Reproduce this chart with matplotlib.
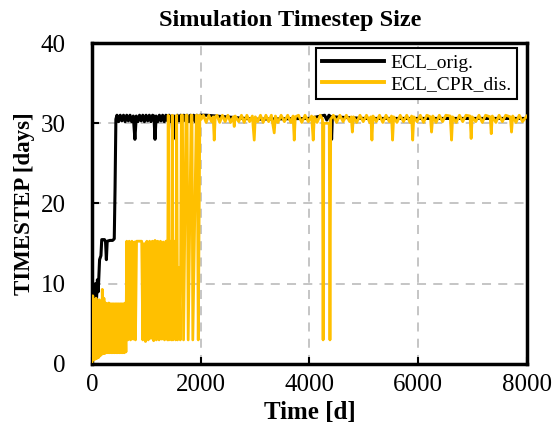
import matplotlib

matplotlib.use("Agg")
import matplotlib.pyplot as plt

plt.rcParams["font.family"] = ["Liberation Serif", "DejaVu Serif"]

# ECL_orig. timestep size [days] vs time [d]
black_t = [0, 20, 40, 60, 80, 100, 115, 140, 165, 180, 230, 250, 265, 280, 330, 380, 410,
           425, 440, 460, 490, 520, 550, 580, 610, 640, 670, 700, 730, 760, 790, 815, 845,
           875, 905, 935, 965, 995, 1025, 1055, 1085, 1115, 1140, 1160, 1180, 1210, 1240,
           1270, 1300, 1330, 1360, 1390, 1420, 1450, 1470, 1490, 1510, 1540, 1570, 1600,
           1630, 1660, 1690, 1720, 1750, 1780, 1810, 1840, 1870, 1900, 1930, 1960, 1990,
           2100, 3000, 4000, 4280, 4320, 4360, 4395, 4408, 4422, 5000, 8000]
black_v = [4.5, 9.0, 6.5, 10.0, 7.5, 10.5, 9.0, 13.0, 13.5, 15.5, 15.5, 15.2, 13.0, 15.3,
           15.4, 15.4, 15.6, 22.0, 30.5, 31.0, 30.2, 31.0, 30.3, 31.0, 30.2, 31.0, 30.3,
           31.0, 30.2, 30.9, 28.0, 30.9, 30.2, 31.0, 30.3, 31.0, 30.2, 31.0, 30.3, 31.0,
           30.2, 31.0, 30.9, 28.0, 30.9, 30.2, 31.0, 30.3, 31.0, 30.2, 31.0, 30.3, 31.0,
           30.2, 30.9, 28.0, 30.9, 30.2, 31.0, 30.3, 31.0, 30.2, 31.0, 30.3, 31.0, 30.2,
           31.0, 30.3, 31.0, 30.2, 31.0, 30.3, 31.0,
           31.0, 30.5, 30.6, 31.0, 30.4, 31.0, 30.8, 28.0, 30.8, 30.6, 30.6]

# ECL_CPR_dis. timestep size [days] vs time [d]
yellow_t = [
    # start-up, 0-630 d
    0, 15, 30, 45, 60, 75, 90, 105, 120, 135, 150, 165, 180, 190, 205, 220, 235, 250,
    265, 280, 295, 310, 325, 340, 355, 370, 385, 400, 415, 430, 445, 460, 475, 490,
    505, 520, 535, 550, 565, 580, 595, 610, 625,
    # 3-15 d band
    640, 660, 685, 710, 735, 760, 785, 800, 820, 915, 935, 960, 985, 1010, 1035, 1060,
    1085, 1110, 1135, 1160, 1185, 1210, 1235, 1260, 1285, 1310, 1335, 1360, 1380, 1390,
    # large swings
    1403, 1415, 1440, 1460, 1477, 1490, 1520, 1540, 1558, 1575, 1600, 1625, 1645, 1665,
    1685, 1730, 1750, 1770, 1825, 1840, 1855, 1920, 1935, 1955, 1985,
    # plateau
    2010, 2050, 2100, 2150, 2200, 2230, 2249, 2268, 2300, 2350, 2400, 2450, 2500, 2550,
    2600, 2617, 2635, 2700, 2750, 2800, 2850, 2900, 2950, 2985, 3005, 3050, 3100, 3150,
    3200, 3250, 3300, 3353, 3375, 3420, 3480, 3540, 3600, 3660, 3700, 3721, 3740, 3800,
    3860, 3920, 3980, 4040, 4070, 4090, 4140, 4200, 4240, 4252, 4265, 4320, 4365, 4378,
    4392, 4440, 4500, 4560, 4620, 4680, 4740, 4770, 4790, 4810, 4870, 4930, 4990, 5050,
    5110, 5130, 5150, 5170, 5230, 5290, 5350, 5410, 5470, 5510, 5530, 5550, 5610, 5670,
    5730, 5790, 5850, 5880, 5900, 5920, 5980, 6040, 6100, 6160, 6225, 6247, 6270, 6330,
    6390, 6450, 6510, 6590, 6615, 6635, 6700, 6760, 6820, 6880, 6955, 6975, 6995, 7060,
    7120, 7180, 7240, 7325, 7345, 7365, 7430, 7490, 7550, 7610, 7695, 7718, 7740, 7800,
    7860, 7920, 8000,
]
yellow_v = [
    0.3, 8.5, 0.5, 8.0, 0.6, 8.2, 0.7, 7.5, 0.8, 8.0, 1.0, 7.6, 1.2, 9.3, 1.3, 8.2, 1.3,
    7.6, 1.4, 7.5, 1.4, 7.6, 1.4, 7.5, 1.4, 7.5, 1.4, 7.5, 1.4, 7.5, 1.4, 7.5, 1.4, 7.5,
    1.4, 7.5, 1.4, 7.5, 1.4, 7.5, 1.4, 7.6, 1.5,
    15.3, 3.0, 15.3, 3.0, 15.3, 3.1, 15.2, 3.0, 15.3, 15.3, 3.0, 15.0, 2.8, 15.3, 3.0,
    15.3, 3.2, 15.3, 2.9, 15.4, 3.0, 15.3, 3.0, 15.3, 3.1, 15.2, 3.0, 15.3, 15.3, 3.0,
    31.0, 3.0, 15.3, 3.0, 31.0, 3.0, 15.3, 3.0, 31.0, 3.0, 12.0, 3.0, 31.0, 31.0,
    3.0, 31.0, 31.0, 3.0, 31.0, 31.0, 3.0, 31.0, 31.0, 3.0, 31.0,
    30.5, 31.0, 30.1, 31.0, 30.2, 30.8, 27.9, 30.8, 31.0, 30.1, 31.0, 30.2, 31.0, 30.1,
    30.8, 29.6, 30.9, 30.2, 31.0, 30.1, 31.0, 30.2, 30.9, 27.9, 30.8, 30.2, 31.0, 30.1,
    31.0, 30.2, 31.0, 28.8, 30.9, 30.1, 31.0, 30.2, 31.0, 30.1, 30.9, 27.9, 30.8, 31.0,
    30.1, 31.0, 30.2, 30.9, 27.9, 30.8, 30.1, 31.0, 30.5, 3.0, 30.0, 30.0, 30.0, 3.0,
    30.5, 31.0, 30.1, 31.0, 30.2, 31.0, 30.2, 30.8, 28.9, 30.8, 30.1, 31.0, 30.2, 31.0,
    30.1, 30.8, 27.9, 30.9, 30.2, 31.0, 30.1, 31.0, 30.2, 30.9, 27.9, 30.8, 30.1, 31.0,
    30.2, 31.0, 30.1, 30.9, 27.9, 30.8, 30.2, 31.0, 30.1, 31.0, 30.8, 28.9, 30.9, 30.1,
    31.0, 30.2, 31.0, 30.9, 27.9, 30.8, 30.1, 31.0, 30.2, 31.0, 30.9, 28.1, 30.8, 30.2,
    31.0, 30.1, 31.0, 30.8, 28.7, 30.9, 30.1, 31.0, 30.2, 31.0, 30.8, 28.9, 30.9, 30.1,
    31.0, 30.2, 30.9,
]

x_ticks = [0, 2000, 4000, 6000, 8000]
y_ticks = [0, 10, 20, 30, 40]

fig = plt.figure(figsize=(5.54, 4.42), dpi=100)
ax = fig.add_axes([0.166, 0.1765, 0.785, 0.7262])

ax.plot(black_t, black_v, color="black", linewidth=2.2, label="ECL_orig.", zorder=3)
ax.plot(yellow_t, yellow_v, color="#FFC000", linewidth=2.0, label="ECL_CPR_dis.", zorder=4)

ax.set_xlim(0, 8000)
ax.set_ylim(0, 40)
ax.set_xticks(x_ticks)
ax.set_yticks(y_ticks)
ax.tick_params(direction="in", labelsize=18, length=5, width=1.5, pad=7)
ax.tick_params(axis="y", pad=19)
ax.grid(True, linestyle=(0, (5, 4)), color="#c0c0c0", linewidth=1.3)
ax.set_axisbelow(True)
for s in ax.spines.values():
    s.set_linewidth(2.5)

ax.set_title("Simulation Timestep Size", fontsize=17.5, fontweight="bold", pad=12, x=0.455)
ax.set_xlabel("Time [d]", fontsize=18, fontweight="bold", labelpad=4)
ax.set_ylabel("TIMESTEP [days]", fontsize=16.5, fontweight="bold", labelpad=4)

leg = ax.legend(loc="upper right", bbox_to_anchor=(0.977, 0.984), fontsize=14,
                handlelength=3.2, fancybox=False, framealpha=1, edgecolor="black",
                borderaxespad=0, labelspacing=0.2, handletextpad=0.3, borderpad=0.3)
leg.get_frame().set_linewidth(1.5)
for line in leg.get_lines():
    line.set_linewidth(2.8)

fig.savefig("out.png", dpi=100)
